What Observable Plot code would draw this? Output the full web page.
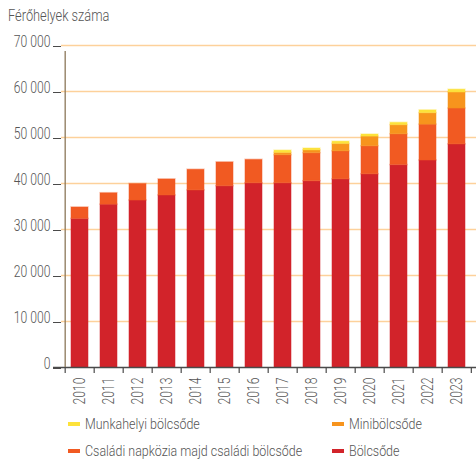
<!DOCTYPE html>
<html><head><meta charset="utf-8">
<script src="https://cdn.jsdelivr.net/npm/d3@7"></script>
<script src="https://cdn.jsdelivr.net/npm/@observablehq/plot@0.6"></script>
<style>
body{margin:0;background:#fff;font-family:Roboto,sans-serif;font-weight:300;color:#555;}
#wrap{position:relative;width:476px;height:461px;overflow:hidden;}
#title{position:absolute;left:8px;top:6px;font-size:16px;color:#555;transform:scaleX(0.8);transform-origin:0 0;white-space:nowrap;}
#chart{position:absolute;left:0;top:0;}
.leg{position:absolute;font-size:15px;color:#555;display:flex;align-items:center;white-space:nowrap;}
.sw{width:12px;height:4px;margin-right:5px;display:inline-block;}
.lt{display:inline-block;transform:scaleX(0.83);transform-origin:0 50%;}
</style></head><body>
<div id="wrap"><div id="chart"></div><div id="title">Férőhelyek száma</div></div>
<script>
const years = ["2010","2011","2012","2013","2014","2015","2016","2017","2018","2019","2020","2021","2022","2023"];
const seriesNames = ["Bölcsőde","Családi napközia majd családi bölcsőde","Minibölcsőde","Munkahelyi bölcsőde"];
const colors = ["#d2232a","#f15a22","#f7941d","#fde23a"];
const bolcsode   = [32300,35400,36300,37400,38500,39400,40050,40050,40500,40900,42000,44000,45000,48500];
const csaladi    = [2500,2500,3600,3500,4500,5200,5100,6100,6100,6100,6100,6700,7800,7800];
const mini       = [0,0,0,0,0,0,0,500,600,1600,2100,2000,2500,3500];
const munkahelyi = [0,0,0,0,0,0,0,500,400,500,450,500,600,600];
const yTicks = [0,10000,20000,30000,40000,50000,60000,70000];

const seriesValues = [bolcsode, csaladi, mini, munkahelyi];
const data = [];
years.forEach((y,i)=>{
  seriesValues.forEach((vals,s)=>{
    if (vals[i] > 0) data.push({year:y, series:seriesNames[s], value:vals[i]});
  });
});

const W = 476, ML = 61, MR = 0;
const step = (W - ML - MR) / years.length;
const fmt = d => d3.format(",")(d).replace(/,/g, " ");

const chart = Plot.plot({
  width: W, height: 412,
  marginTop: 45, marginBottom: 45, marginLeft: ML, marginRight: MR,
  style: {fontFamily: 'Roboto,sans-serif', fontWeight: 300, fontSize: "16px", color:"#555", background:"#fff"},
  x: {domain: years, paddingInner: 0.4, paddingOuter: 0.2, label: null},
  y: {domain: [0, 70000], label: null},
  color: {domain: seriesNames, range: colors},
  marks: [
    Plot.ruleY(yTicks.filter(d => d > 0), {stroke: "#fdd19b", strokeWidth: 1.4}),
    Plot.barY(data, {x: "year", y: "value", fill: "series", order: seriesNames,
      stroke: "series", strokeOpacity: 0.35, strokeWidth: 1.5}),
    Plot.ruleY([0], {stroke: "#4a4a4a", strokeWidth: 1.3, insetLeft: -8}),
    Plot.ruleX(years, {x: d => d, y1: 0, y2: 0, dx: -step/2, insetBottom: -6, stroke: "#4a4a4a", strokeWidth: 1.2}),
    Plot.ruleX([years[years.length-1]], {x: d => d, y1: 0, y2: 0, dx: step/2 - 0.5, insetBottom: -6, stroke: "#4a4a4a", strokeWidth: 1.2}),
    Plot.ruleX([years[0]], {x: d => d, y1: 0, y2: 70000, dx: -step/2, insetBottom: -6, stroke: "#8b7759", strokeWidth: 1.3}),
    Plot.axisY({ticks: yTicks, tickFormat: fmt, tickSize: 8, tickPadding: 3, lineAnchor: "bottom", dy: 1, stroke: "#4a4a4a", label: null}),
    Plot.axisX({tickRotate: -90, tickSize: 0, tickPadding: 10, label: null})
  ]
});
// condense the tick labels horizontally (the reference uses a narrow typeface)
chart.querySelectorAll("text").forEach(t => {
  const xa = t.getAttribute("x");
  let pre = "";
  if (xa !== null && !isNaN(+xa)) { pre = ` translate(${+xa},0)`; t.setAttribute("x", 0); }
  const tr = t.getAttribute("transform") || "";
  t.setAttribute("transform", `${tr}${pre} scale(0.76,1)`);
});
document.getElementById("chart").appendChild(chart);

const legendPos = [[68,425],[332,425],[68,452],[332,452]];
const order = [3,2,1,0];
const wrap = document.getElementById("wrap");
order.forEach((s,k)=>{
  const d = document.createElement("div");
  d.className = "leg";
  d.style.left = legendPos[k][0] + "px";
  d.style.top = (legendPos[k][1] - 10) + "px";
  d.innerHTML = `<span class="sw" style="background:${colors[s]}"></span><span class="lt">${seriesNames[s]}</span>`;
  wrap.appendChild(d);
});
</script>
</body></html>
